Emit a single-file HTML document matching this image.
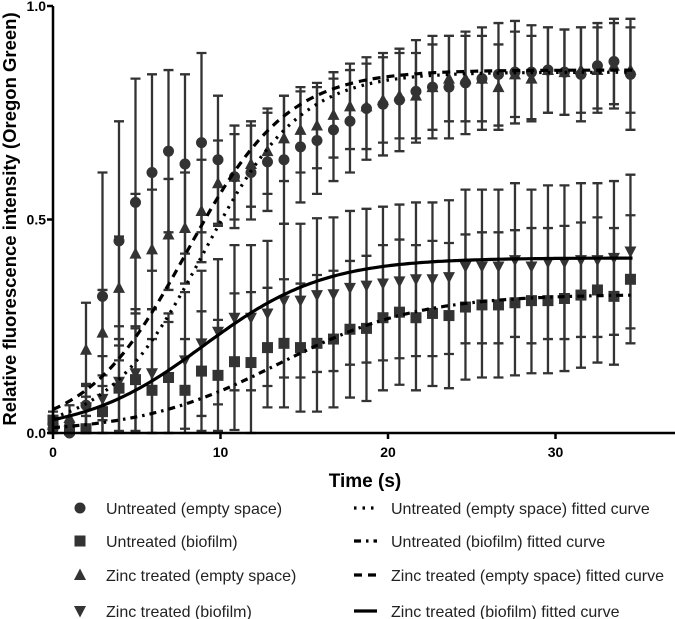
<!DOCTYPE html>
<html><head><meta charset="utf-8"><style>
html,body{margin:0;padding:0;background:#fff;}
svg{display:block;font-family:"Liberation Sans",Arial,sans-serif;}
</style></head><body>
<svg id="chart" width="675" height="619" viewBox="0 0 675 619">
<g id="plot"></g>
<g id="axes"></g>
<g id="legend"></g>
</svg>
<script>
const times = [0,1,2,3,4,5,6,7,8,9,10,11,12,13,14,15,16,17,18,19,20,21,22,23,24,25,26,27,28,29,30,31,32,33,34,35].map(i=>i*0.985);
const untreatedEmpty = [0.01,0.0,0.065,0.32,0.45,0.54,0.61,0.66,0.63,0.68,0.64,0.60,0.61,0.635,0.64,0.67,0.685,0.71,0.73,0.76,0.77,0.78,0.80,0.81,0.81,0.82,0.83,0.84,0.845,0.845,0.85,0.845,0.84,0.86,0.87,0.84];
const untreatedEmptyErr = [0.02,0.02,0.05,0.29,0.28,0.29,0.23,0.19,0.21,0.21,0.15,0.12,0.11,0.115,0.15,0.13,0.125,0.12,0.12,0.12,0.12,0.12,0.12,0.12,0.12,0.12,0.12,0.12,0.12,0.11,0.1,0.1,0.11,0.1,0.1,0.13];
const untreatedBiofilm = [0.03,0.007,0.01,0.05,0.105,0.125,0.10,0.13,0.10,0.145,0.135,0.167,0.165,0.20,0.21,0.20,0.21,0.22,0.243,0.245,0.27,0.283,0.27,0.28,0.275,0.295,0.30,0.30,0.305,0.31,0.31,0.315,0.323,0.335,0.32,0.36];
const untreatedBiofilmErr = [0.02,0.02,0.03,0.06,0.1,0.12,0.12,0.13,0.12,0.14,0.13,0.16,0.165,0.14,0.15,0.15,0.16,0.16,0.16,0.17,0.17,0.17,0.17,0.17,0.17,0.17,0.17,0.17,0.17,0.17,0.17,0.17,0.17,0.17,0.16,0.15];
const zincEmpty = [0.02,0.035,0.195,0.235,0.34,0.42,0.43,0.465,0.48,0.52,0.585,0.60,0.63,0.66,0.69,0.71,0.72,0.745,0.765,0.765,0.78,0.79,0.79,0.81,0.83,0.83,0.83,0.81,0.84,0.83,0.85,0.845,0.85,0.85,0.86,0.85];
const zincEmptyErr = [0.02,0.03,0.11,0.1,0.12,0.14,0.14,0.13,0.13,0.12,0.1,0.1,0.1,0.1,0.1,0.1,0.1,0.1,0.1,0.1,0.1,0.1,0.1,0.1,0.1,0.1,0.1,0.1,0.1,0.1,0.1,0.1,0.1,0.1,0.1,0.1];
const zincBiofilm = [0.01,0.005,0.06,0.08,0.12,0.14,0.14,0.13,0.17,0.21,0.237,0.27,0.27,0.28,0.31,0.31,0.323,0.325,0.34,0.345,0.35,0.355,0.36,0.36,0.365,0.39,0.39,0.39,0.405,0.39,0.40,0.40,0.405,0.405,0.41,0.425];
const zincBiofilmErr = [0.02,0.02,0.05,0.1,0.13,0.15,0.15,0.15,0.16,0.17,0.17,0.17,0.17,0.17,0.18,0.18,0.18,0.18,0.18,0.18,0.18,0.18,0.18,0.18,0.18,0.18,0.18,0.18,0.18,0.18,0.18,0.18,0.18,0.18,0.18,0.18];
// fitted logistic parameters: [bottom, top, t50, slope]
const fitUntreatedEmpty = [0, 0.845, 9.0, 2.9];
const fitUntreatedBiofilm = [0, 0.325, 13.5, 4.2];
const fitZincEmpty = [0, 0.85, 8.0, 3.0];
const fitZincBiofilm = [0, 0.41, 9.0, 3.6];
const xTicks = [0,10,20,30];
const yTicks = [0.0,0.5,1.0];
const yTickLabels = ["0.0","0.5","1.0"];

const NS="http://www.w3.org/2000/svg";
const X0=53, PX=16.75, Y0=433, PY=427;
const xs=t=>X0+t*PX, ys=v=>Y0-v*PY;
function mk(tag,attrs,parent){const e=document.createElementNS(NS,tag);for(const k in attrs)e.setAttribute(k,attrs[k]);parent.appendChild(e);return e;}
const plot=document.getElementById('plot'), axes=document.getElementById('axes'), legend=document.getElementById('legend');
const col="#333";
function marker(kind,cx,cy,parent){
  let e;
  if(kind==='circle') e=mk('circle',{cx:cx,cy:cy,r:5.5,fill:col},parent);
  else if(kind==='square') e=mk('rect',{x:cx-5.5,y:cy-5.5,width:11,height:11,fill:col},parent);
  else if(kind==='up') e=mk('polygon',{points:`${cx},${cy-6.5} ${cx+6},${cy+5} ${cx-6},${cy+5}`,fill:col},parent);
  else e=mk('polygon',{points:`${cx},${cy+6.5} ${cx+6},${cy-5} ${cx-6},${cy-5}`,fill:col},parent);
  return e;
}
function series(vals,errs,kind,name){
  const g=mk('g',{},plot);
  
  
  vals.forEach((v,i)=>{
    const x=xs(times[i]);
    const lo=Math.max(0,v-errs[i]), hi=v+errs[i];
    const eb=mk('path',{d:`M${x},${ys(lo)}V${ys(hi)}M${x-5},${ys(hi)}H${x+5}M${x-5},${ys(lo)}H${x+5}`,stroke:col,'stroke-width':2.3,fill:'none'},g);
    
    
    const m=marker(kind,x,ys(v),g);
    
    
  });
}
function curve(p,dash,name){
  let d='';
  for(let t=0;t<=34.6;t+=0.2){const v=p[0]+(p[1]-p[0])/(1+Math.exp((p[2]-t)/p[3]));d+=(d?'L':'M')+xs(t).toFixed(1)+','+ys(v).toFixed(1);}
  const attrs={d:d,stroke:'#000','stroke-width':3.2,fill:'none'};
  if(dash)attrs['stroke-dasharray']=dash;
  const e=mk('path',attrs,plot);
  
  
}
series(untreatedEmpty,untreatedEmptyErr,'circle','untreated-empty');
series(zincEmpty,zincEmptyErr,'up','zinc-empty');
series(untreatedBiofilm,untreatedBiofilmErr,'square','untreated-biofilm');
series(zincBiofilm,zincBiofilmErr,'down','zinc-biofilm');
curve(fitUntreatedEmpty,'2.5 6','untreated-empty');
curve(fitUntreatedBiofilm,'7 5 2.5 5','untreated-biofilm');
curve(fitZincEmpty,'8 6','zinc-empty');
curve(fitZincBiofilm,null,'zinc-biofilm');

// axes
const ya=mk('path',{d:`M${X0},6V${Y0}`,stroke:'#000','stroke-width':2.5},axes);


const xa=mk('path',{d:`M${X0-1},${Y0}H675`,stroke:'#000','stroke-width':2.5},axes);


xTicks.forEach(t=>{
  mk('path',{d:`M${xs(t)},${Y0}v6`,stroke:'#000','stroke-width':2.5},axes);
  const tx=mk('text',{x:xs(t),y:Y0+24,'text-anchor':'middle','font-size':14,'font-weight':'bold'},axes);
  tx.textContent=t;
  
  
});
yTicks.forEach((v,i)=>{
  mk('path',{d:`M${X0-6},${ys(v)}H${X0}`,stroke:'#000','stroke-width':2.5},axes);
  const tx=mk('text',{x:X0-7,y:ys(v)+5,'text-anchor':'end','font-size':14,'font-weight':'bold'},axes);
  tx.textContent=yTickLabels[i];
  
  
});
const xt=mk('text',{x:365,y:487,'text-anchor':'middle','font-size':19,'font-weight':'bold'},axes);
xt.textContent='Time (s)';


const yt=mk('text',{x:0,y:0,'text-anchor':'middle','font-size':18.5,'font-weight':'bold',transform:'translate(16,219) rotate(-90)'},axes);
yt.textContent='Relative fluorescence intensity (Oregon Green)';



// legend
const legMarkers=[['circle','Untreated (empty space)'],['square','Untreated (biofilm)'],['up','Zinc treated (empty space)'],['down','Zinc treated (biofilm)']];
const legLines=[['2.5 6','Untreated (empty space) fitted curve'],['7 5 2.5 5','Untreated (biofilm) fitted curve'],['8 6','Zinc treated (empty space) fitted curve'],[null,'Zinc treated (biofilm) fitted curve']];
const rowsY=[508,541,575,611];
legMarkers.forEach((m,i)=>{
  const g=mk('g',{},legend);
  
  
  marker(m[0],80,rowsY[i],g);
  const t=mk('text',{x:106,y:rowsY[i]+6,'font-size':16,fill:'#222'},g);
  t.textContent=m[1];
});
legLines.forEach((m,i)=>{
  const g=mk('g',{},legend);
  
  
  const a={d:`M354,${rowsY[i]}H377`,stroke:'#000','stroke-width':3.2};
  if(m[0])a['stroke-dasharray']=m[0];
  mk('path',a,g);
  const t=mk('text',{x:391,y:rowsY[i]+6,'font-size':16,fill:'#222'},g);
  t.textContent=m[1];
});
</script>
</body></html>
